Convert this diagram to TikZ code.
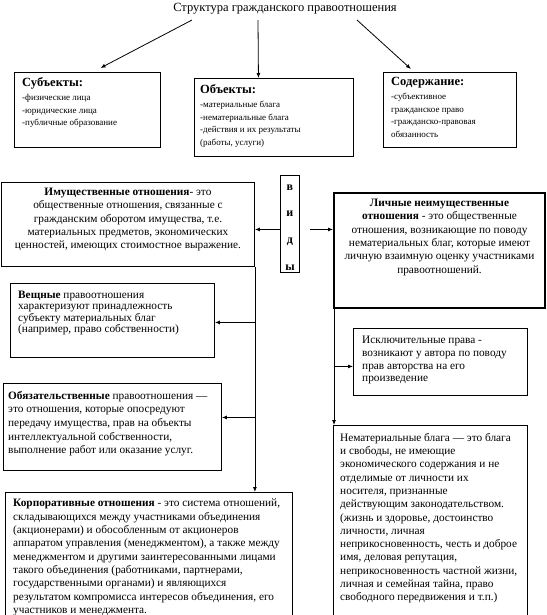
\documentclass[tikz,border=0pt]{standalone}
\usepackage{fontspec}
\setmainfont{Liberation Serif}
\usetikzlibrary{positioning,arrows.meta,calc}
\newcommand{\boxhead}[1]{{\fontsize{12.5}{14}\selectfont\bfseries #1}}

\begin{document}
\begin{tikzpicture}[x=1pt,y=-1pt,
    frame/.style={draw, line width=0.9pt, inner sep=0pt, anchor=north west},
    txt/.style={inner sep=0pt, anchor=north west, align=left, font=\fontsize{11.3}{13.3}\selectfont},
    small/.style={txt, font=\fontsize{9}{12.5}\selectfont},
    arr/.style={-{Latex[length=5pt,width=4pt]}, line width=0.8pt}]
    \useasboundingbox (0,0) rectangle (546,615);
    \clip (0,0) rectangle (546,615);

    % title and top row
    \node[font=\fontsize{12.5}{14}\selectfont] (title) at (285,9) {Структура гражданского правоотношения};
    \node[frame, minimum width=146, minimum height=75] (subj) at (14,72) {};
    \node[frame, minimum width=159, minimum height=78] (obj) at (194,78) {};
    \node[frame, minimum width=133, minimum height=75] (cont) at (383,72) {};
    \node[small] (subjtxt) at ([xshift=8pt,yshift=-5pt]subj.north west) {\boxhead{Субъекты:}\\[2pt]-физические лица\\-юридические лица\\-публичные образование};
    \node[small] (objtxt) at ([xshift=6pt,yshift=-6pt]obj.north west) {\boxhead{Объекты:}\\[2pt]-материальные блага\\-нематериальные блага\\-действия и их результаты\\(работы, услуги)};
    \node[small] (conttxt) at ([xshift=8pt,yshift=-5pt]cont.north west) {\boxhead{Содержание:}\\[2pt]-субъективное\\гражданское право\\-гражданско-правовая\\обязанность};
    \draw[arr] ([xshift=-93pt,yshift=-2pt]title.south) -- ([xshift=13pt,yshift=4pt]subj.north);
    \draw[arr] ([xshift=-27pt,yshift=-2pt]title.south) -- ([xshift=-15.5pt]obj.north);
    \draw[arr] ([xshift=72pt,yshift=-2pt]title.south) -- ([xshift=-39pt,yshift=3pt]cont.north);

    % kinds
    \node[frame, minimum width=19, minimum height=97] (vidy) at (280,175) {};
    \node[align=center, inner sep=0pt, font=\fontsize{12}{26.7}\selectfont\bfseries] (vidytxt) at ([yshift=-3.5pt]vidy.center) {в\\и\\д\\ы};
    \node[frame, minimum width=253, minimum height=84] (imush) at (1,182) {};
    \node[frame, line width=2pt, minimum width=211, minimum height=115] (lich) at (333,192) {};
    \node[txt, anchor=north, align=center] (imushtxt) at ([yshift=-6pt]imush.north) {\textbf{Имущественные отношения}- это\\общественные отношения, связанные с\\гражданским оборотом имущества, т.е.\\материальных предметов, экономических\\ценностей, имеющих стоимостное выражение.};
    \node[txt, anchor=north, align=center] (lichtxt) at ([yshift=-7pt]lich.north) {\textbf{Личные неимущественные}\\\textbf{отношения} - это общественные\\отношения, возникающие по поводу\\нематериальных благ, которые имеют\\личную взаимную оценку участниками\\правоотношений.};
    \draw[arr] ([yshift=-5.5pt]vidy.west) -- ([yshift=-5.5pt]vidy.west -| imush.east);
    \draw[arr] ([xshift=10pt,yshift=-5.5pt]vidy.east) -- ([yshift=-5.5pt]vidy.east -| lich.west);

    % property side
    \node[frame, minimum width=204, minimum height=74] (veshch) at (10,283) {};
    \node[frame, minimum width=218, minimum height=87] (obyaz) at (3,383) {};
    \node[frame, minimum width=287, minimum height=140] (korp) at (5,492) {};
    \node[txt, font=\fontsize{11.3}{11.3}\selectfont] (veshchtxt) at ([xshift=8pt,yshift=-8pt]veshch.north west) {\textbf{Вещные} правоотношения\\характеризуют принадлежность\\субъекту материальных благ\\(например, право собственности)};
    \node[txt, font=\fontsize{11.3}{13.6}\selectfont] (obyaztxt) at ([xshift=5pt,yshift=-8pt]obyaz.north west) {\textbf{Обязательственные} правоотношения —\\это отношения, которые опосредуют\\передачу имущества, прав на объекты\\интеллектуальной собственности,\\выполнение работ или оказание услуг.};
    \node[txt] (korptxt) at ([xshift=8pt,yshift=-7pt]korp.north west) {\textbf{Корпоративные отношения} - это система отношений,\\складывающихся между участниками объединения\\(акционерами) и обособленным от акционеров\\аппаратом управления (менеджментом), а также между\\менеджментом и другими заинтересованными лицами\\такого объединения (работниками, партнерами,\\государственными органами) и являющихся\\результатом компромисса интересов объединения, его\\участников и менеджмента.};
    \draw[arr] (imush.south east) -- (imush.south east |- korp.north);
    \draw[arr] ([yshift=-2pt]imush.south east |- veshch.east) -- ([yshift=-2pt]veshch.east);
    \draw[arr] ([yshift=9.5pt]imush.south east |- obyaz.east) -- ([yshift=9.5pt]obyaz.east);

    % personal side
    \node[frame, minimum width=174, minimum height=67] (iskl) at (353,328) {};
    \node[frame, minimum width=194, minimum height=200] (nemat) at (333,425) {};
    \node[txt, font=\fontsize{11.3}{12.7}\selectfont] (iskltxt) at ([xshift=9pt,yshift=-8pt]iskl.north west) {Исключительные права -\\возникают у автора по поводу\\прав авторства на его\\произведение};
    \node[txt] (nemattxt) at ([xshift=7pt,yshift=-8pt]nemat.north west) {Нематериальные блага — это блага\\и свободы, не имеющие\\экономического содержания и не\\отделимые от личности их\\носителя, признанные\\действующим законодательством.\\(жизнь и здоровье, достоинство\\личности, личная\\неприкосновенность, честь и доброе\\имя, деловая репутация,\\неприкосновенность частной жизни,\\личная и семейная тайна, право\\свободного передвижения и т.п.)};
    \draw[arr] ([xshift=1pt]lich.south west) -- ([xshift=1pt]nemat.north west);
    \draw[arr] ([xshift=1pt,yshift=-4.5pt]lich.south west |- iskl.west) -- ([yshift=-4.5pt]iskl.west);
\end{tikzpicture}
\end{document}
